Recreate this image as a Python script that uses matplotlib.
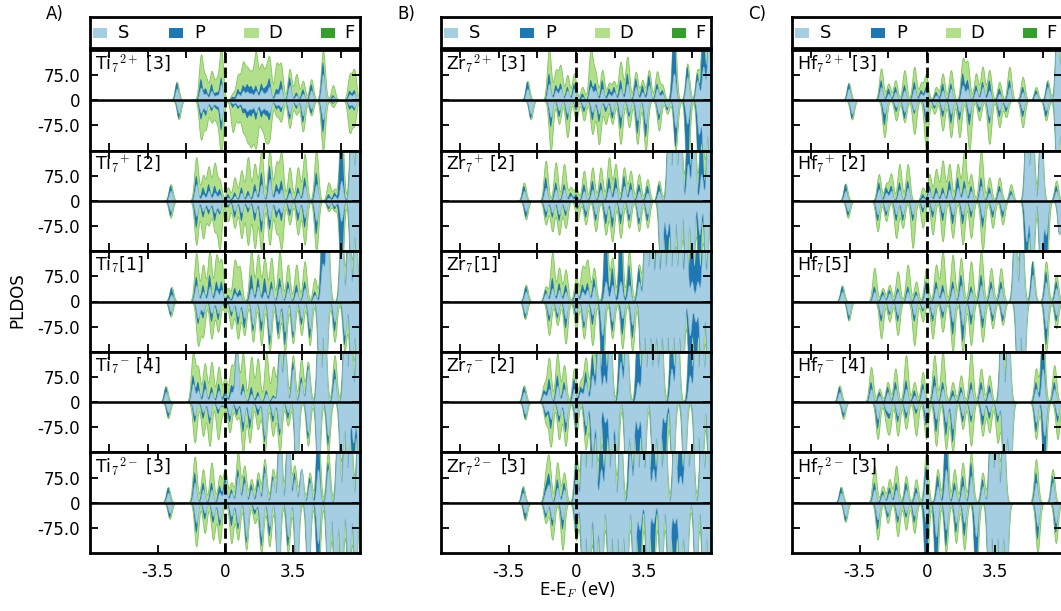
import numpy as np
import matplotlib
matplotlib.use("Agg")
import matplotlib.pyplot as plt
from matplotlib.patches import Rectangle

plt.rcParams['font.family'] = ['DejaVu Sans']
plt.rcParams['mathtext.fontset'] = 'cm'

# ---------------- data ----------------
# each level: (energy eV, S top, S+P top, S+P+D top)
ORBITALS = ['S', 'P', 'D', 'F']
ORBITAL_COLORS = ['#a6cee3', '#1f78b4', '#b2df8a', '#33a02c']
PANEL_LETTERS = ['A)', 'B)', 'C)']
ELEMENTS = ['Ti', 'Zr', 'Hf']
CHARGES = ['2+', '+', '', '-', '2-']
MULTIPLICITY = {'Ti': [3, 2, 1, 4, 3], 'Zr': [3, 2, 1, 2, 3], 'Hf': [3, 2, 5, 4, 3]}
Y_TICKS = [-75, 0, 75]
Y_TICK_LABELS = ['-75.0', '0', '75.0']
X_TICKS_BOTTOM = [-3.5, 0, 3.5]
X_TICK_LABELS_BOTTOM = ['-3.5', '0', '3.5']

F = 250  # clipped (off-scale) peaks

TI_2P_UP = [(-2.50,35,53,55),(-1.25,38,63,133),(-1.00,20,35,65),(-0.70,28,48,83),(-0.45,15,23,53),(-0.20,48,68,150),(0.40,5,10,20),(0.67,20,33,73),(0.93,28,43,103),(1.15,25,45,80),(1.36,20,40,68),(1.60,28,43,138),(1.88,30,48,98),(2.10,20,35,70),(2.30,40,63,118),(2.66,20,33,103),(2.90,35,58,103),(3.35,45,68,93),(3.70,15,23,78),(4.04,20,33,58),(4.47,30,48,63),(5.08,78,113,148),(5.60,10,15,45),(6.46,18,28,73),(6.70,20,30,88)]
TI_2P_DN = [(-2.40,38,54,56),(-1.25,37,57,112),(-1.00,30,45,80),(-0.70,20,32,62),(-0.45,15,25,55),(-0.20,60,90,160),(0.40,10,22,92),(0.67,15,25,60),(0.93,22,37,82),(1.15,30,50,100),(1.36,25,45,117),(1.60,35,57,132),(1.88,30,50,70),(2.10,25,40,100),(2.30,35,57,102),(2.66,15,27,42),(2.90,20,35,60),(3.35,40,57,82),(3.70,15,25,42),(4.04,45,67,92),(4.47,25,40,45),(5.08,57,97,150),(5.60,5,10,20),(6.46,15,27,92),(6.70,20,30,70)]

TI_1P_UP = [(-2.82,30,45,50),(-1.49,50,75,130),(-1.14,20,40,75),(-0.85,30,50,100),(-0.54,25,45,110),(-0.28,20,35,60),(0.15,10,20,40),(0.50,15,25,70),(0.85,25,40,90),(1.19,18,30,130),(1.54,30,50,110),(1.88,50,85,150),(2.31,65,105,150),(2.66,30,50,110),(2.92,35,60,140),(3.35,25,40,100),(3.78,25,40,100),(4.13,45,70,140),(4.73,50,85,150),(5.37,10,20,55),(5.68,15,25,35),(6.03,60,F,F),(6.55,F,F,F),(6.85,F,F,F)]
TI_1P_DN = [(-2.82,30,45,50),(-1.49,45,80,130),(-1.14,30,50,110),(-0.85,25,40,70),(-0.54,35,60,85),(-0.28,30,40,140),(0.15,10,20,60),(0.50,30,50,80),(0.85,35,60,110),(1.19,20,35,130),(1.54,35,60,140),(1.88,60,95,150),(2.31,55,85,130),(2.66,30,50,90),(2.92,35,60,140),(3.35,25,45,70),(3.78,35,60,100),(4.13,50,80,130),(4.73,60,100,150),(5.37,15,25,30),(5.68,15,25,30),(6.03,60,F,F),(6.55,F,F,F),(6.85,F,F,F)]

TI_0_UP = [(-2.78,20,40,44),(-1.49,49,74,144),(-1.14,30,49,109),(-0.80,45,79,150),(-0.45,35,59,134),(-0.19,35,59,120),(0.15,10,20,40),(0.50,25,40,120),(0.76,20,35,100),(1.36,40,80,150),(1.71,45,70,140),(2.05,30,70,130),(2.40,40,60,130),(2.83,45,70,150),(3.26,40,60,110),(3.70,30,50,110),(4.13,40,60,120),(4.65,20,30,70),(5.05,110,F,F),(5.30,F,F,F),(6.03,F,F,F),(6.40,F,F,F),(6.75,F,F,F)]
TI_0_DN = [(-2.82,30,42,45),(-1.40,50,67,127),(-1.14,30,50,100),(-0.70,35,60,110),(-0.36,35,55,90),(0.00,10,20,30),(0.33,30,45,80),(0.67,45,70,110),(1.00,50,80,100),(1.45,70,90,120),(1.88,60,90,130),(2.31,100,130,150),(2.75,60,100,110),(3.10,90,130,150),(3.52,90,110,125),(3.96,50,70,100),(4.39,80,110,130),(4.90,F,F,F),(5.20,F,F,F),(5.68,60,90,120),(6.20,100,130,150),(6.55,F,F,F),(6.85,F,F,F)]

TI_1M_UP = [(-3.07,30,45,48),(-1.66,55,80,145),(-1.40,35,60,100),(-1.05,40,65,115),(-0.70,30,45,120),(-0.33,35,55,105),(0.00,20,35,75),(0.33,30,50,105),(0.60,160,160,160),(0.93,35,55,145),(1.36,25,45,135),(1.70,20,30,130),(2.14,25,35,145),(2.50,15,20,105),(2.83,150,160,170),(3.10,160,170,170),(3.52,100,120,140),(3.95,60,75,130),(4.30,100,110,120),(4.85,F,F,F),(5.15,F,F,F),(5.68,70,100,140),(6.20,F,F,F),(6.50,F,F,F),(6.85,F,F,F)]
TI_1M_DN = [(-2.95,30,45,48),(-1.57,40,60,120),(-1.14,30,50,100),(-0.80,45,65,130),(-0.36,20,35,110),(-0.10,10,15,30),(0.24,40,60,90),(0.60,20,40,50),(0.93,60,90,150),(1.28,50,80,120),(1.70,20,40,80),(2.05,100,120,150),(2.48,40,60,100),(2.83,80,100,150),(3.26,30,50,70),(3.70,F,F,F),(4.30,90,110,130),(4.82,F,F,F),(5.34,100,130,150),(6.03,F,F,F),(6.35,F,F,F),(6.65,120,F,F),(6.95,F,F,F)]

TI_2M_UP = [(-2.95,30,45,47),(-1.57,60,90,138),(-1.14,40,60,100),(-0.70,40,60,120),(-0.28,30,50,80),(0.00,60,80,100),(0.33,30,40,60),(0.67,80,100,150),(1.00,60,80,110),(1.36,40,55,70),(1.71,50,70,90),(2.05,90,110,130),(2.48,70,80,100),(2.83,F,F,F),(3.26,F,F,F),(3.60,70,90,110),(3.96,100,100,100),(4.39,60,75,90),(4.82,100,F,F),(5.34,100,120,150),(5.85,F,F,F),(6.20,F,F,F),(6.50,F,F,F),(6.90,F,F,F)]
TI_2M_DN = [(-2.87,30,45,48),(-1.49,60,90,130),(-1.05,30,50,90),(-0.62,40,60,110),(-0.28,50,70,120),(0.33,40,70,120),(0.67,60,80,110),(1.10,100,120,140),(1.54,20,35,60),(1.88,100,130,150),(2.30,70,100,130),(2.75,F,F,F),(3.26,100,130,150),(3.70,F,F,F),(4.30,F,F,F),(4.82,120,F,F),(5.34,F,F,F),(5.70,F,F,F),(6.03,F,F,F),(6.40,F,F,F),(6.75,F,F,F)]

ZR_2P_UP = [(-2.52,35,55,58),(-1.40,50,80,150),(-1.05,30,45,85),(-0.80,35,50,100),(-0.45,30,40,75),(-0.10,35,50,80),(0.33,10,20,40),(0.76,40,60,150),(1.00,30,50,80),(1.36,35,60,90),(1.71,20,35,50),(1.97,25,40,55),(2.31,35,60,115),(2.66,50,80,130),(3.10,40,65,85),(3.44,25,45,60),(3.78,45,75,90),(4.20,35,50,85),(4.47,20,30,45),(5.08,80,F,F),(5.77,70,100,110),(6.29,60,80,90),(6.60,100,F,F),(6.90,F,F,F)]
ZR_2P_DN = [(-2.35,40,55,57),(-1.31,50,80,150),(-0.88,30,50,70),(-0.45,40,60,110),(0.00,20,30,60),(0.41,20,35,60),(0.85,35,60,100),(1.19,40,65,130),(1.54,20,35,70),(1.88,35,55,70),(2.31,50,85,130),(2.75,35,50,80),(3.18,60,100,130),(3.61,70,110,150),(4.30,40,60,90),(4.73,20,30,40),(5.16,80,140,150),(5.77,70,F,F),(6.37,100,F,F),(6.65,F,F,F),(6.95,F,F,F)]

ZR_1P_UP = [(-2.70,30,45,55),(-1.57,40,70,120),(-1.05,35,55,115),(-0.62,35,50,110),(-0.28,15,25,40),(0.00,10,20,40),(0.41,30,50,90),(0.85,35,60,100),(1.28,35,55,100),(1.71,40,70,130),(2.05,40,70,110),(2.49,45,75,100),(2.83,35,55,90),(3.26,30,50,80),(3.70,25,45,65),(4.30,30,50,60),(4.80,F,F,F),(5.10,F,F,F),(5.40,F,F,F),(5.80,110,F,F),(6.10,F,F,F),(6.50,80,F,F),(6.85,F,F,F)]
ZR_1P_DN = [(-2.60,30,50,55),(-1.57,30,50,70),(-1.23,35,50,90),(-0.88,40,60,100),(-0.54,30,45,80),(0.07,15,25,60),(0.50,30,50,70),(1.02,40,60,90),(1.54,40,70,100),(1.88,50,80,120),(2.31,40,70,110),(2.75,40,60,80),(3.26,50,70,90),(3.70,40,60,80),(4.40,F,F,F),(4.70,100,F,F),(5.00,F,F,F),(5.34,F,F,F),(5.70,F,F,F),(6.03,F,F,F),(6.40,100,F,F),(6.75,F,F,F)]

ZR_0_UP = [(-2.60,30,45,50),(-1.57,25,35,45),(-1.23,40,70,145),(-0.88,35,55,100),(-0.54,30,50,95),(0.00,25,40,70),(0.33,30,50,100),(0.59,35,55,120),(0.93,45,70,100),(1.54,60,F,F),(1.88,50,100,130),(2.31,60,F,F),(2.75,50,110,150),(3.26,60,100,110),(3.60,F,F,F),(3.90,F,F,F),(4.20,200,F,F),(4.50,F,F,F),(4.80,F,F,F),(5.10,F,F,F),(5.40,F,F,F),(5.70,200,F,F),(6.00,60,F,F),(6.30,60,F,F),(6.60,200,F,F),(6.90,F,F,F)]
ZR_0_DN = [(-2.64,35,50,52),(-1.40,40,60,100),(-0.97,35,50,70),(-0.54,50,80,125),(0.00,30,50,80),(0.41,60,80,110),(0.85,40,70,130),(1.36,100,F,F),(1.88,60,90,110),(2.40,50,100,140),(2.92,70,110,150),(3.40,F,F,F),(3.70,F,F,F),(4.00,F,F,F),(4.30,F,F,F),(4.60,F,F,F),(4.90,F,F,F),(5.20,F,F,F),(5.50,F,F,F),(5.90,100,F,F),(6.20,60,F,F),(6.50,F,F,F),(6.85,F,F,F)]

ZR_1M_UP = [(-2.70,30,45,50),(-1.66,25,35,50),(-1.40,40,70,130),(-0.97,50,80,145),(-0.62,40,60,110),(-0.10,40,70,100),(0.24,30,45,60),(0.50,60,90,130),(0.85,80,140,150),(1.15,200,F,F),(1.45,80,F,F),(1.75,F,F,F),(2.30,120,F,F),(2.60,F,F,F),(3.20,60,F,F),(3.50,F,F,F),(3.80,F,F,F),(4.10,F,F,F),(4.40,F,F,F),(4.95,100,F,F),(5.25,F,F,F),(5.90,80,F,F),(6.20,F,F,F),(6.50,F,F,F),(6.80,F,F,F)]
ZR_1M_DN = [(-2.64,35,50,52),(-1.57,30,45,60),(-1.31,50,80,130),(-0.88,40,60,110),(-0.54,60,90,130),(0.00,50,80,100),(0.50,70,100,140),(0.85,150,F,F),(1.15,F,F,F),(1.50,60,F,F),(1.80,F,F,F),(2.10,150,F,F),(2.60,F,F,F),(2.90,F,F,F),(3.20,80,F,F),(3.50,F,F,F),(4.00,F,F,F),(4.30,F,F,F),(4.60,60,F,F),(5.00,F,F,F),(5.60,F,F,F),(6.20,F,F,F),(6.50,F,F,F),(6.90,F,F,F)]

ZR_2M_UP = [(-2.75,30,45,50),(-1.57,30,45,70),(-1.40,50,80,120),(-0.97,45,70,120),(-0.62,40,60,90),(0.00,80,120,150),(0.35,F,F,F),(0.65,F,F,F),(0.95,F,F,F),(1.30,100,F,F),(1.60,F,F,F),(1.90,F,F,F),(2.30,F,F,F),(2.80,150,F,F),(3.10,F,F,F),(3.40,F,F,F),(3.70,F,F,F),(4.00,100,F,F),(4.30,F,F,F),(4.60,F,F,F),(5.10,F,F,F),(5.40,80,F,F),(5.70,F,F,F),(6.00,F,F,F),(6.50,F,F,F),(6.80,F,F,F)]
ZR_2M_DN = [(-2.64,30,50,52),(-1.57,30,45,60),(-1.23,50,70,110),(-0.70,50,80,140),(0.00,60,90,110),(0.35,F,F,F),(0.65,F,F,F),(1.00,200,F,F),(1.30,F,F,F),(1.70,F,F,F),(2.00,F,F,F),(2.30,F,F,F),(2.60,F,F,F),(3.00,F,F,F),(3.30,80,F,F),(3.70,F,F,F),(4.00,60,F,F),(4.40,F,F,F),(4.80,F,F,F),(5.10,60,F,F),(5.40,F,F,F),(5.70,F,F,F),(6.20,F,F,F),(6.60,F,F,F),(6.90,F,F,F)]

HF_2P_UP = [(-4.06,35,50,52),(-2.38,40,60,95),(-2.00,20,35,50),(-1.64,25,40,60),(-1.17,30,45,90),(-0.66,35,55,100),(-0.31,20,30,50),(-0.05,30,40,75),(0.47,15,25,40),(0.81,30,50,80),(1.24,35,50,90),(1.85,45,80,120),(2.10,35,60,110),(2.54,30,45,80),(2.88,40,55,100),(3.23,30,60,90),(3.75,20,35,55),(4.27,40,60,100),(4.96,25,40,70),(5.65,20,30,40),(6.25,40,55,60),(6.75,F,F,F),(7.05,F,F,F)]
HF_2P_DN = [(-3.89,40,55,57),(-2.21,40,75,110),(-1.60,20,35,60),(-1.17,35,55,65),(-0.66,30,40,100),(-0.05,40,70,150),(0.38,15,25,40),(0.81,30,50,90),(1.24,40,70,110),(1.68,35,60,110),(2.19,40,75,150),(2.71,20,35,60),(3.23,50,70,130),(3.75,30,50,80),(4.10,20,35,50),(4.96,30,50,80),(6.17,30,50,60),(6.75,F,F,F),(7.05,F,F,F)]

HF_1P_UP = [(-4.23,30,50,52),(-2.50,35,55,80),(-2.12,25,40,50),(-1.86,30,45,80),(-1.43,35,55,110),(-1.00,40,60,110),(-0.22,10,20,40),(0.12,30,45,80),(0.47,25,40,95),(0.81,25,40,120),(1.16,35,60,110),(1.59,40,70,110),(1.93,40,60,150),(2.28,30,45,80),(2.80,45,70,150),(3.23,25,40,70),(3.75,30,45,70),(4.35,20,30,50),(5.15,F,F,F),(5.45,F,F,F),(5.90,F,F,F),(6.70,30,45,60)]
HF_1P_DN = [(-4.10,30,45,50),(-2.56,40,60,90),(-2.12,30,45,60),(-1.60,40,60,110),(-1.26,40,60,80),(-0.74,40,60,140),(-0.22,20,35,80),(0.29,30,50,100),(0.81,35,60,120),(1.33,40,70,110),(1.85,40,70,130),(2.28,30,50,110),(2.88,50,80,150),(3.40,30,50,80),(3.92,30,50,70),(5.15,120,F,F),(5.45,F,F,F),(5.90,F,F,F),(6.17,100,F,F),(6.86,100,100,100)]

HF_0_UP = [(-4.40,30,45,48),(-2.73,30,45,100),(-2.30,20,30,40),(-1.95,25,35,50),(-1.52,30,40,90),(-1.00,30,45,110),(-0.57,20,30,60),(-0.05,40,60,100),(0.47,40,60,110),(0.81,30,50,150),(1.33,40,60,140),(1.76,50,80,130),(2.28,30,45,120),(2.80,50,80,150),(3.32,40,60,100),(3.83,40,60,100),(4.55,F,F,F),(4.90,F,F,F),(5.47,80,120,120),(6.17,60,90,120),(6.70,40,60,80)]
HF_0_DN = [(-4.06,40,55,57),(-2.38,40,60,110),(-1.95,30,40,60),(-1.52,40,60,100),(-0.66,40,60,130),(-0.22,20,30,60),(0.29,40,60,110),(0.81,30,50,90),(1.33,60,100,150),(1.85,70,120,150),(2.28,40,70,130),(2.88,50,80,120),(3.40,40,60,80),(3.92,40,60,70),(4.70,F,F,F),(5.00,F,F,F),(6.17,80,130,150),(6.70,40,60,80)]

HF_1M_UP = [(-4.54,30,45,50),(-2.90,40,60,105),(-2.47,20,30,40),(-2.04,30,45,60),(-1.64,40,60,100),(-1.09,40,65,140),(-0.66,20,35,60),(-0.22,40,55,90),(0.38,50,80,140),(0.81,40,60,150),(1.33,20,35,60),(1.76,30,45,80),(2.28,40,60,150),(2.80,40,60,100),(3.23,30,50,80),(3.85,F,F,F),(4.20,F,F,F),(5.65,40,60,100),(6.00,100,F,F),(6.60,40,60,110)]
HF_1M_DN = [(-4.34,30,45,50),(-2.56,50,80,110),(-2.12,20,30,50),(-1.95,30,45,80),(-1.52,40,60,100),(-1.09,30,50,80),(-0.57,20,35,100),(-0.05,40,70,110),(0.47,50,90,130),(0.98,60,100,140),(1.33,80,120,150),(1.85,40,60,80),(2.28,40,60,130),(2.88,40,70,100),(3.23,30,50,90),(3.66,40,60,120),(4.00,F,F,F),(4.30,F,F,F),(5.65,60,90,110),(6.08,100,F,F),(6.77,40,60,110)]

HF_2M_UP = [(-4.46,30,45,48),(-2.73,40,60,110),(-2.30,25,35,50),(-1.95,30,45,70),(-1.60,40,60,110),(-1.09,40,60,80),(-0.57,30,45,70),(-0.05,80,110,150),(0.55,50,80,100),(0.98,100,F,F),(1.42,40,60,100),(1.85,50,80,120),(2.28,80,120,150),(2.88,50,70,90),(3.30,F,F,F),(3.60,F,F,F),(3.95,F,F,F),(5.65,60,90,130),(6.51,60,80,100)]
HF_2M_DN = [(-4.23,40,55,57),(-2.56,50,80,110),(-2.04,30,45,60),(-1.52,40,60,100),(-1.09,30,45,80),(-0.66,40,60,90),(-0.05,60,F,F),(0.47,100,F,F),(0.98,80,130,150),(1.50,60,90,120),(1.93,60,100,140),(2.54,100,F,F),(3.20,F,F,F),(3.50,F,F,F),(3.80,F,F,F),(4.10,F,F,F),(5.73,70,110,150),(6.68,60,90,120)]

PANEL_DATA = {
    'Ti': [(TI_2P_UP, TI_2P_DN), (TI_1P_UP, TI_1P_DN), (TI_0_UP, TI_0_DN), (TI_1M_UP, TI_1M_DN), (TI_2M_UP, TI_2M_DN)],
    'Zr': [(ZR_2P_UP, ZR_2P_DN), (ZR_1P_UP, ZR_1P_DN), (ZR_0_UP, ZR_0_DN), (ZR_1M_UP, ZR_1M_DN), (ZR_2M_UP, ZR_2M_DN)],
    'Hf': [(HF_2P_UP, HF_2P_DN), (HF_1P_UP, HF_1P_DN), (HF_0_UP, HF_0_DN), (HF_1M_UP, HF_1M_DN), (HF_2M_UP, HF_2M_DN)],
}

SIGMA_SP = 0.085  # broadening of S and P
SIGMA_D = 0.105   # broadening of D (appears a bit wider)
XLIM = (-7.0, 7.0)
YLIM = (-150, 150)
energy = np.linspace(XLIM[0], XLIM[1], 2801)


def broaden(levels, col, sigma):
    out = np.zeros_like(energy)
    for lv in levels:
        out += lv[col] * np.exp(-(energy - lv[0]) ** 2 / (2 * sigma ** 2))
    return out


def label_for(el, ch, mult):
    if ch:
        return r'%s$_7{}^{%s}$ [%d]' % (el, ch, mult)
    return r'%s$_7$[%d]' % (el, mult)


# ---------------- figure ----------------
W, H = 1061, 611
fig = plt.figure(figsize=(W / 100, H / 100), dpi=100)

col_left = [90, 441, 792]
col_width = 270
row_top = 50
row_h = 100.6
leg_top, leg_bot = 17, 48

def fpos(left, top, width, height):
    return [left / W, 1 - (top + height) / H, width / W, height / H]

for ci, el in enumerate(ELEMENTS):
    # legend box
    lax = fig.add_axes(fpos(col_left[ci], leg_top, col_width, leg_bot - leg_top))
    lax.set_xticks([]); lax.set_yticks([])
    for sp in lax.spines.values():
        sp.set_linewidth(2)
    patch_x = [0.01, 0.293, 0.572, 0.856]
    text_x = [0.105, 0.386, 0.66, 0.94]
    for k, name in enumerate(ORBITALS):
        lax.add_patch(Rectangle((patch_x[k], 0.31), 0.053, 0.35, transform=lax.transAxes,
                                facecolor=ORBITAL_COLORS[k], edgecolor='none'))
        lax.text(text_x[k], 0.47, name, transform=lax.transAxes, ha='left', va='center', fontsize=13)
    fig.text((col_left[ci] - 44) / W, 1 - 14 / H, PANEL_LETTERS[ci], ha='left', va='center', fontsize=12)

    for ri in range(5):
        ax = fig.add_axes(fpos(col_left[ci], row_top + ri * row_h, col_width, row_h))
        up, dn = PANEL_DATA[el][ri]
        for sign, levels in ((1, up), (-1, dn)):
            s = broaden(levels, 1, SIGMA_SP)
            sp_ = broaden(levels, 2, SIGMA_SP)
            spd = np.maximum(broaden(levels, 3, SIGMA_D), sp_)
            ax.fill_between(energy, 0, sign * spd, facecolor=ORBITAL_COLORS[2], edgecolor='#7fc65a', linewidth=0.6, zorder=1)
            ax.fill_between(energy, 0, sign * sp_, facecolor=ORBITAL_COLORS[1], edgecolor='none', zorder=1.1)
            ax.fill_between(energy, 0, sign * s, facecolor=ORBITAL_COLORS[0], edgecolor='#8bbcd6', linewidth=0.4, zorder=1.2)
        ax.axhline(0, color='k', lw=1.8, zorder=3)
        ax.axvline(0, color='k', lw=2.0, ls='--', zorder=3)
        ax.set_xlim(*XLIM)
        ax.set_ylim(*YLIM)
        ax.set_yticks(Y_TICKS)
        if ci == 0:
            ax.set_yticklabels(Y_TICK_LABELS)
        else:
            ax.set_yticklabels([])
        if ri == 4:
            ax.set_xticks(X_TICKS_BOTTOM)
            ax.set_xticklabels(X_TICK_LABELS_BOTTOM)
        else:
            ax.set_xticks([-6, -4, -2, 0, 2, 4, 6])
            ax.set_xticklabels([])
        ax.tick_params(direction='in', top=True, right=True, length=6, width=1.3, labelsize=12, pad=7)
        for sp in ax.spines.values():
            sp.set_linewidth(2)
            sp.set_zorder(4)
        ax.text(0.02, 0.97, label_for(el, CHARGES[ri], MULTIPLICITY[el][ri]), transform=ax.transAxes,
                ha='left', va='top', fontsize=12.5, zorder=5)

fig.text(17 / W, 1 - 300 / H, 'PLDOS', rotation=90, ha='center', va='center', fontsize=12)
fig.text(577 / W, 1 - 590 / H, r'E-E$_F$ (eV)', ha='center', va='center', fontsize=12)

fig.savefig('out.png', dpi=100)
